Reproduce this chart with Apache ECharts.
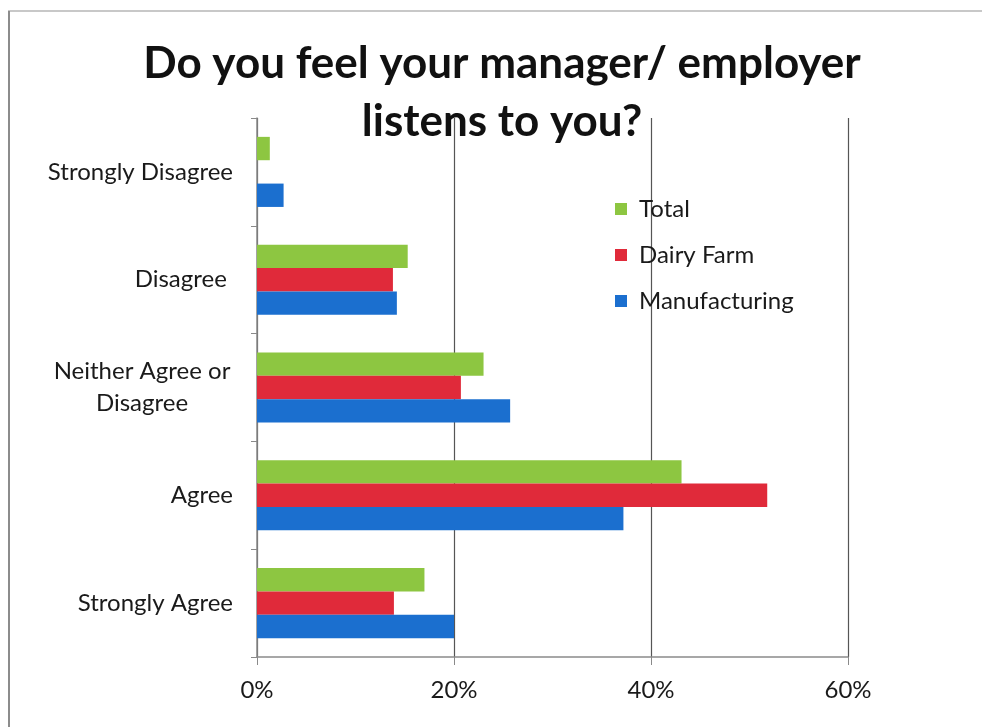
<!DOCTYPE html>
<html>
<head>
<meta charset="utf-8">
<script src="https://cdn.jsdelivr.net/npm/echarts@6/dist/echarts.min.js"></script>
<style>
  html, body { margin: 0; padding: 0; background: #fff; }
  #chart { width: 982px; height: 727px; }
</style>
</head>
<body>
<div id="chart"></div>
<script>
// Survey answers, top to bottom
const categories = ['Strongly Disagree', 'Disagree ', 'Neither Agree or\nDisagree', 'Agree', 'Strongly Agree'];

// Share of respondents per answer (percent)
const totalValues = [1.3, 15.3, 23.0, 43.1, 17.0];
const dairyValues = [0, 13.8, 20.7, 51.8, 13.9];
const manufacturingValues = [2.7, 14.2, 25.7, 37.2, 20.0];

const seriesNames = ['Total', 'Dairy Farm', 'Manufacturing'];
const seriesColors = ['#8dc641', '#e02a3a', '#1b6fcf'];

const FONT = 'Lato, Carlito, "Open Sans", sans-serif';
const LABEL_SIZE = 24;

const chart = echarts.init(document.getElementById('chart'));

const seriesData = [totalValues, dairyValues, manufacturingValues];

// Wrapped category labels keep their lines centred on each other
function categoryLabel(value) {
  if (value.indexOf('\n') < 0) return value;
  return value.split('\n').map(line => '{c|' + line + '}').join('\n');
}

chart.setOption({
  animation: false,
  backgroundColor: '#ffffff',
  title: {
    text: 'Do you feel your manager/ employer\nlistens to you?',
    left: 497,
    textAlign: 'center',
    top: 30,
    textStyle: {
      fontFamily: FONT,
      fontWeight: 'bold',
      fontSize: 44,
      lineHeight: 58,
      color: '#111'
    }
  },
  legend: {
    orient: 'vertical',
    left: 610,
    top: 192,
    itemWidth: 12,
    itemHeight: 12,
    itemGap: 22,
    icon: 'rect',
    data: seriesNames,
    formatter: name => '{g|}' + name,
    textStyle: {
      fontFamily: FONT,
      fontSize: LABEL_SIZE,
      lineHeight: 24,
      color: '#1a1a1a',
      rich: { g: { width: 7 } }
    }
  },
  grid: { left: 257, right: 134, top: 118, bottom: 70, containLabel: false },
  xAxis: {
    type: 'value',
    min: 0,
    max: 60,
    interval: 20,
    axisLine: { show: true, lineStyle: { color: '#8a8a8a', width: 1.5 } },
    axisTick: { show: true, length: 8, lineStyle: { color: '#8a8a8a' } },
    axisLabel: {
      formatter: '{value}%',
      fontFamily: FONT,
      fontSize: LABEL_SIZE,
      color: '#1a1a1a',
      margin: 21
    },
    splitLine: { show: true, lineStyle: { color: '#555', width: 1.2 } }
  },
  yAxis: {
    type: 'category',
    inverse: true,
    data: categories,
    axisLine: { show: true, lineStyle: { color: '#8a8a8a', width: 1.5 } },
    axisTick: { show: true, length: 6, lineStyle: { color: '#8a8a8a' } },
    axisLabel: {
      formatter: categoryLabel,
      fontFamily: FONT,
      fontSize: LABEL_SIZE,
      lineHeight: 32,
      color: '#1a1a1a',
      margin: 24,
      align: 'right',
      rich: {
        c: { width: 182, align: 'center', fontFamily: FONT, fontSize: LABEL_SIZE, lineHeight: 32, color: '#1a1a1a' }
      }
    }
  },
  series: seriesNames.map((name, i) => ({
    name: name,
    type: 'bar',
    data: seriesData[i],
    barGap: '0%',
    barCategoryGap: '35%',
    itemStyle: { color: seriesColors[i] }
  })),
  graphic: [
    // page frame
    { type: 'line', shape: { x1: 8, y1: 11, x2: 982, y2: 11 }, style: { stroke: '#c8c8c8', lineWidth: 2 }, silent: true },
    { type: 'line', shape: { x1: 9, y1: 11, x2: 9, y2: 727 }, style: { stroke: '#8c8c8c', lineWidth: 2 }, silent: true }
  ]
});
</script>
</body>
</html>
